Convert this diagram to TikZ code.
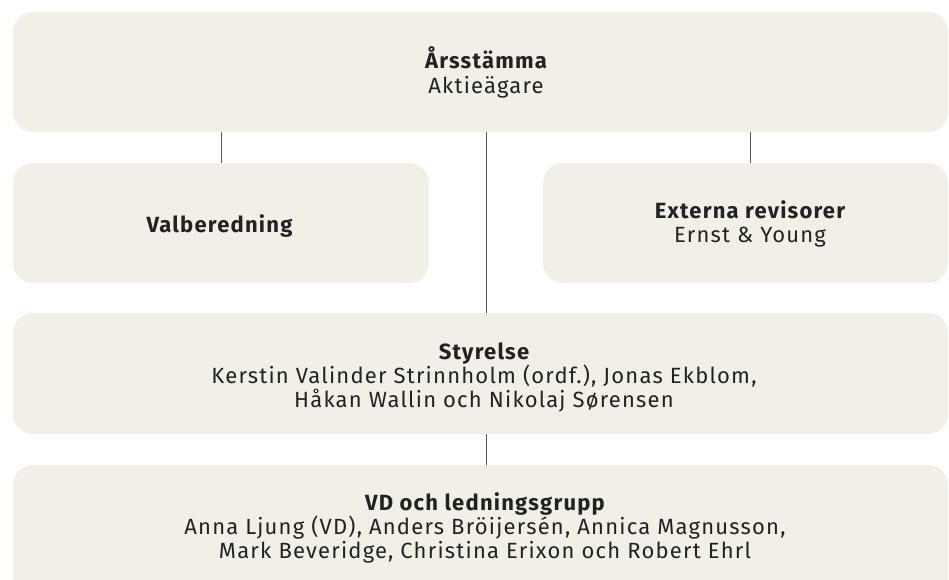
\documentclass[tikz,border=0pt]{standalone}
\usepackage{fontspec}
\setmainfont{Fira Sans}[LetterSpace=5.5]
\definecolor{boxfill}{HTML}{F2EFE7}
\definecolor{txt}{HTML}{222222}
\definecolor{conn}{HTML}{555555}
\begin{document}
\begin{tikzpicture}[x=1pt,y=-1pt,
  orgbox/.style={fill=boxfill,draw=none,rounded corners=20pt,inner sep=0pt},
  ttl/.style={anchor=base,inner sep=0pt,text=txt,font=\fontsize{22}{24}\selectfont\bfseries},
  body/.style={anchor=base,inner sep=0pt,text=txt,font=\fontsize{22}{24}\selectfont},
  conline/.style={draw=conn,line width=1pt}]
\useasboundingbox (0,0) rectangle (949,579);
\begin{scope}
\clip (0,0) rectangle (949,579);
\node[orgbox,minimum width=935pt,minimum height=120pt] (top) at (480.5,72) {};
\node[orgbox,minimum width=416pt,minimum height=120pt] (val) at (221,223) {};
\node[orgbox,minimum width=405pt,minimum height=120pt] (ext) at (745.5,223) {};
\node[orgbox,minimum width=935pt,minimum height=121pt] (sty) at (480.5,373.5) {};
\node[orgbox,minimum width=935pt,minimum height=150pt] (vd) at (480.5,540) {};
\end{scope}

\node[ttl] (t1) at (486,68) {Årsstämma};
\node[body] (t2) at (486,93) {Aktieägare};
\node[ttl] (t3) at (219.5,232) {Valberedning};
\node[ttl] (t4) at (750,218) {Externa revisorer};
\node[body] (t5) at (750,242) {Ernst \& Young};
\node[ttl] (t6) at (484,359) {Styrelse};
\node[body] (t7) at (484,383) {Kerstin Valinder Strinnholm (ordf.), Jonas Ekblom,};
\node[body] (t8) at (484,407) {Håkan Wallin och Nikolaj Sørensen};
\node[ttl] (t9) at (485,510) {VD och ledningsgrupp};
\node[body] (t10) at (485,534) {Anna Ljung (VD), Anders Bröijersén, Annica Magnusson,};
\node[body] (t11) at (485,558) {Mark Beveridge, Christina Erixon och Robert Ehrl};

\draw[conline] (val.north) -- (val.north |- top.south);
\draw[conline] ([xshift=4.5pt]ext.north) -- ([xshift=4.5pt]ext.north |- top.south);
\draw[conline] ([xshift=5.5pt]top.south) -- ([xshift=5.5pt]sty.north);
\draw[conline] ([xshift=5.5pt]sty.south) -- ([xshift=5.5pt]vd.north);
\end{tikzpicture}
\end{document}
